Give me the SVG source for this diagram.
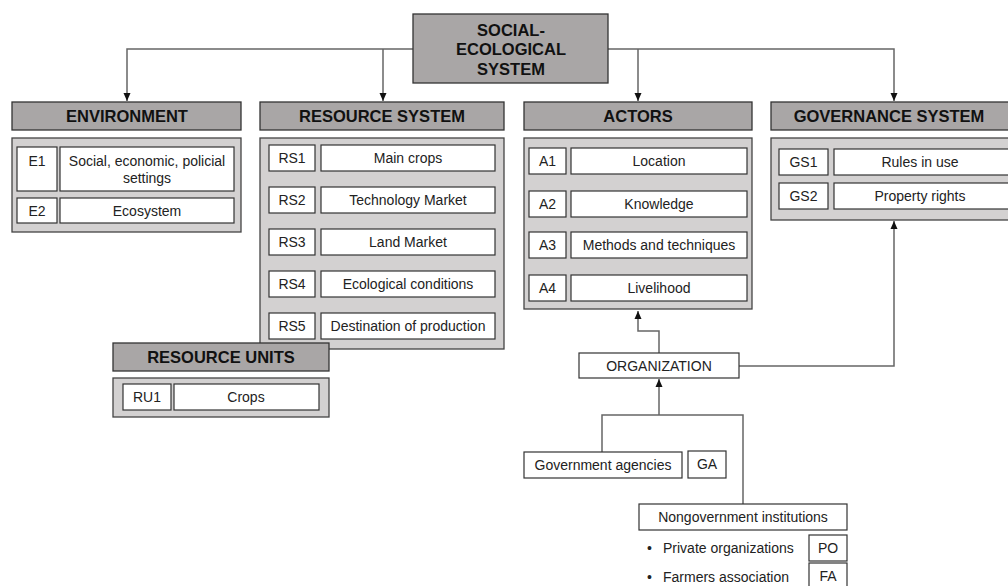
<svg xmlns="http://www.w3.org/2000/svg" width="1008" height="586" viewBox="0 0 1008 586">
<style>
.hd{fill:#a9a6a6;stroke:#333;stroke-width:1.3}
.bd{fill:#d3d1d1;stroke:#444;stroke-width:1.3}
.bx{fill:#fff;stroke:#333;stroke-width:1.2}
.t{font-family:"Liberation Sans",Arial,sans-serif;font-size:14px;fill:#222;text-anchor:middle;dominant-baseline:central}
.tl{font-family:"Liberation Sans",Arial,sans-serif;font-size:14px;fill:#222;dominant-baseline:central}
.h{font-family:"Liberation Sans",Arial,sans-serif;font-size:16.5px;font-weight:bold;fill:#111;text-anchor:middle;dominant-baseline:central}
.c{fill:none;stroke:#666;stroke-width:1.5}
</style>
<defs>
<marker id="ah" viewBox="0 0 8 8" refX="8" refY="4" markerWidth="8" markerHeight="8" markerUnits="userSpaceOnUse" orient="auto">
<path d="M0,0.5 L8,4 L0,7.5 Z" fill="#111"/>
</marker>
</defs>
<g id="connectors">
<path class="c" d="M413,49 H127 V101" marker-end="url(#ah)"/>
<path class="c" d="M383,49 V101" marker-end="url(#ah)"/>
<path class="c" d="M608,49 H894 V101" marker-end="url(#ah)"/>
<path class="c" d="M638,49 V101" marker-end="url(#ah)"/>
<path class="c" d="M659,353 V331 H638 V311" marker-end="url(#ah)"/>
<path class="c" d="M739,366 H894 V221" marker-end="url(#ah)"/>
<path class="c" d="M602,452 V415 H743 V504"/>
<path class="c" d="M659,415 V379" marker-end="url(#ah)"/>
</g>
<g id="ses">
<rect class="hd" x="413" y="14" width="195" height="69"/>
<text class="h" x="511" y="30">SOCIAL-</text>
<text class="h" x="511" y="49">ECOLOGICAL</text>
<text class="h" x="511" y="69">SYSTEM</text>
</g>
<g id="environment">
<rect class="hd" x="12" y="102" width="229" height="28"/>
<text class="h" x="127" y="116">ENVIRONMENT</text>
<rect class="bd" x="12" y="138" width="229" height="94"/>
<rect class="bx" x="17" y="147" width="40" height="44"/>
<text class="t" x="37" y="161">E1</text>
<rect class="bx" x="60" y="147" width="174" height="44"/>
<text class="t" x="147" y="161">Social, economic, policial</text>
<text class="t" x="147" y="178">settings</text>
<rect class="bx" x="17" y="198" width="40" height="25"/>
<text class="t" x="37" y="210.5">E2</text>
<rect class="bx" x="60" y="198" width="174" height="25"/>
<text class="t" x="147" y="210.5">Ecosystem</text>
</g>
<g id="resource-system">
<rect class="hd" x="260" y="102" width="244" height="28"/>
<text class="h" x="382" y="116">RESOURCE SYSTEM</text>
<rect class="bd" x="260" y="138" width="244" height="211"/>
<rect class="bx" x="269" y="145" width="46" height="26"/>
<text class="t" x="292" y="158">RS1</text>
<rect class="bx" x="321" y="145" width="174" height="26"/>
<text class="t" x="408" y="158">Main crops</text>
<rect class="bx" x="269" y="187" width="46" height="26"/>
<text class="t" x="292" y="200">RS2</text>
<rect class="bx" x="321" y="187" width="174" height="26"/>
<text class="t" x="408" y="200">Technology  Market</text>
<rect class="bx" x="269" y="229" width="46" height="26"/>
<text class="t" x="292" y="242">RS3</text>
<rect class="bx" x="321" y="229" width="174" height="26"/>
<text class="t" x="408" y="242">Land Market</text>
<rect class="bx" x="269" y="271" width="46" height="26"/>
<text class="t" x="292" y="284">RS4</text>
<rect class="bx" x="321" y="271" width="174" height="26"/>
<text class="t" x="408" y="284">Ecological conditions</text>
<rect class="bx" x="269" y="313" width="46" height="26"/>
<text class="t" x="292" y="326">RS5</text>
<rect class="bx" x="321" y="313" width="174" height="26"/>
<text class="t" x="408" y="326">Destination of production</text>
</g>
<g id="resource-units">
<rect class="hd" x="113" y="343" width="216" height="28"/>
<text class="h" x="221" y="357">RESOURCE UNITS</text>
<rect class="bd" x="113" y="378" width="216" height="39"/>
<rect class="bx" x="123" y="384" width="48" height="26"/>
<text class="t" x="147" y="397">RU1</text>
<rect class="bx" x="174" y="384" width="145" height="26"/>
<text class="t" x="246" y="397">Crops</text>
</g>
<g id="actors">
<rect class="hd" x="524" y="102" width="228" height="28"/>
<text class="h" x="638" y="116">ACTORS</text>
<rect class="bd" x="524" y="138" width="228" height="171"/>
<rect class="bx" x="529" y="148" width="37" height="26"/>
<text class="t" x="547.5" y="161">A1</text>
<rect class="bx" x="571" y="148" width="176" height="26"/>
<text class="t" x="659" y="161">Location</text>
<rect class="bx" x="529" y="191" width="37" height="26"/>
<text class="t" x="547.5" y="204">A2</text>
<rect class="bx" x="571" y="191" width="176" height="26"/>
<text class="t" x="659" y="204">Knowledge</text>
<rect class="bx" x="529" y="232" width="37" height="26"/>
<text class="t" x="547.5" y="245">A3</text>
<rect class="bx" x="571" y="232" width="176" height="26"/>
<text class="t" x="659" y="245">Methods and techniques</text>
<rect class="bx" x="529" y="275" width="37" height="26"/>
<text class="t" x="547.5" y="288">A4</text>
<rect class="bx" x="571" y="275" width="176" height="26"/>
<text class="t" x="659" y="288">Livelihood</text>
</g>
<g id="governance-system">
<rect class="hd" x="771" y="102" width="245" height="28"/>
<text class="h" x="889" y="116">GOVERNANCE SYSTEM</text>
<rect class="bd" x="771" y="138" width="245" height="82"/>
<rect class="bx" x="779" y="149" width="49" height="26"/>
<text class="t" x="803.5" y="162">GS1</text>
<rect class="bx" x="834" y="149" width="180" height="26"/>
<text class="t" x="920" y="162">Rules in use</text>
<rect class="bx" x="779" y="183" width="49" height="26"/>
<text class="t" x="803.5" y="196">GS2</text>
<rect class="bx" x="834" y="183" width="180" height="26"/>
<text class="t" x="920" y="196">Property rights</text>
</g>
<g id="organization">
<rect class="bx" x="579" y="353" width="160" height="25"/>
<text class="t" x="659" y="365.5">ORGANIZATION</text>
</g>
<g id="government-agencies">
<rect class="bx" x="524" y="452" width="158" height="26"/>
<text class="t" x="603" y="465">Government  agencies</text>
<rect class="bx" x="688" y="451" width="38" height="27"/>
<text class="t" x="707" y="464">GA</text>
</g>
<g id="nongovernment-institutions">
<rect class="bx" x="639" y="504" width="208" height="26"/>
<text class="t" x="743" y="517">Nongovernment  institutions</text>
<text class="tl" x="647" y="548">•</text>
<text class="tl" x="663" y="548">Private organizations</text>
<rect class="bx" x="809" y="535" width="38" height="26"/>
<text class="t" x="828" y="548">PO</text>
<text class="tl" x="647" y="577">•</text>
<text class="tl" x="663" y="577">Farmers association</text>
<rect class="bx" x="809" y="563" width="38" height="26"/>
<text class="t" x="828" y="576">FA</text>
</g>
</svg>
